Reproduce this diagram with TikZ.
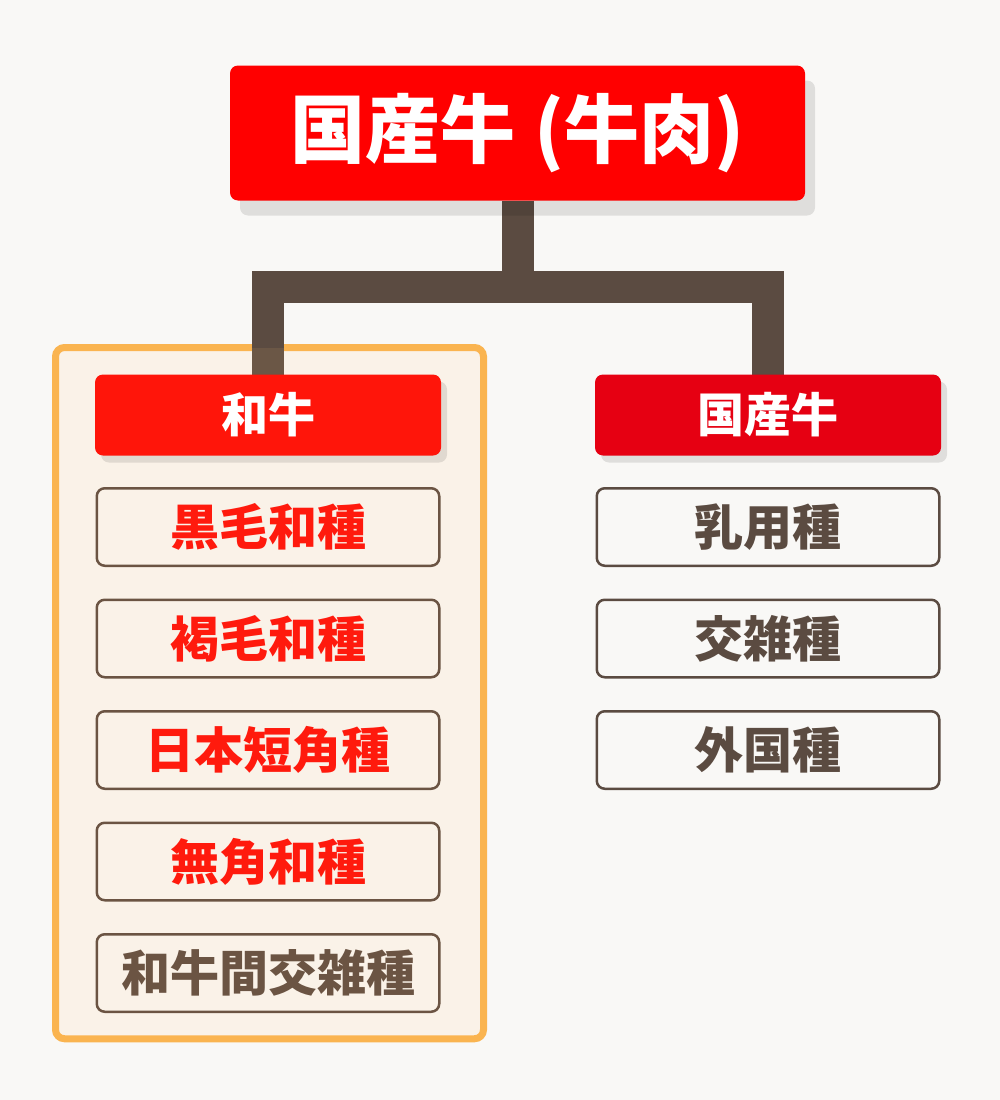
\documentclass[tikz,border=0pt]{standalone}
\usepackage{fontspec}
\newfontfamily\jpfont{Noto Sans CJK JP}[BoldFont={Noto Sans CJK JP Black}]
\usetikzlibrary{positioning}
\usetikzlibrary{fit}
\usetikzlibrary{shadows,backgrounds}
\definecolor{bgcol}{HTML}{F9F8F6}
\definecolor{topred}{HTML}{FF0000}
\definecolor{wagyured}{HTML}{FF150A}
\definecolor{kokured}{HTML}{E60012}
\definecolor{itemred}{HTML}{FF1A0D}
\definecolor{linkbrown}{HTML}{5B4B41}
\definecolor{legbrown}{HTML}{6B5746}
\definecolor{wabrown}{HTML}{6B5443}
\definecolor{framecol}{HTML}{FAB450}
\definecolor{cream}{HTML}{FAF2E8}

\begin{document}
\begin{tikzpicture}[x=1pt,y=-1pt,node distance=111.5pt,on grid,
		title/.style={rectangle,fill=topred,text=white,rounded corners=8pt,minimum width=575pt,minimum height=135pt,inner sep=0pt,outer sep=0pt,font=\jpfont\bfseries\fontsize{75}{75}\selectfont,drop shadow={shadow xshift=10pt,shadow yshift=-15pt,fill=black,opacity=0.1}},
		head/.style={rectangle,text=white,rounded corners=8pt,minimum width=346pt,minimum height=81pt,inner sep=0pt,outer sep=0pt,font=\jpfont\bfseries\fontsize{47}{47}\selectfont,drop shadow={shadow xshift=6pt,shadow yshift=-7pt,fill=black,opacity=0.1}},
		item/.style={rectangle,line width=2.5pt,rounded corners=8pt,minimum width=342.5pt,minimum height=77.5pt,inner sep=0pt,outer sep=0pt,font=\jpfont\bfseries\fontsize{49}{49}\selectfont},
		wa/.style={item,draw=wabrown,fill=cream,text=itemred},
		koku/.style={item,draw=linkbrown,fill=bgcol,text=linkbrown},
		link/.style={draw=linkbrown,line width=32pt}]
		\useasboundingbox (0,0) rectangle (1000,1100);
		
		\node[title]  (beef)   at (517.5,133)              {国産牛\hspace{0.25em}(牛肉)};
		\node[head,fill=wagyured] (wagyu) at (268,415)     {和牛};
		\node[head,fill=kokured]  (kokusan) at (768,415)   {国産牛};
		
		\node[wa]    (kuroge)  [below=112pt of wagyu]  {黒毛和種};
		\node[wa]    (akage)   [below=of kuroge]       {褐毛和種};
		\node[wa]    (tankaku) [below=of akage]        {日本短角種};
		\node[wa]    (mukaku)  [below=of tankaku]      {無角和種};
		\node[wa,text=wabrown] (wakan) [below=of mukaku] {和牛間交雑種};
		
		\node[koku]  (nyuyo)   [below=112pt of kokusan] {乳用種};
		\node[koku]  (kozatsu) [below=of nyuyo]         {交雑種};
		\node[koku]  (gaikoku) [below=of kozatsu]       {外国種};
		
		\coordinate (split) at (517.5,287);
		
		\begin{scope}[on background layer]
		\fill[bgcol] (0,0) rectangle (1000,1100);
		\node[draw=framecol,line width=7pt,fill=cream,rounded corners=9pt,inner xsep=41pt,inner ysep=27pt,xshift=1.5pt,fit=(wagyu)(wakan)] (wabox) {};
		\draw[link] (beef.south) -- (split) -| (wagyu.north);
		\draw[link] (split) -| (kokusan.north);
		\draw[link,draw=legbrown,shorten >=3.5pt] (wagyu.north) -- (wagyu.north |- wabox.north);
		\end{scope}
\end{tikzpicture}
\end{document}
